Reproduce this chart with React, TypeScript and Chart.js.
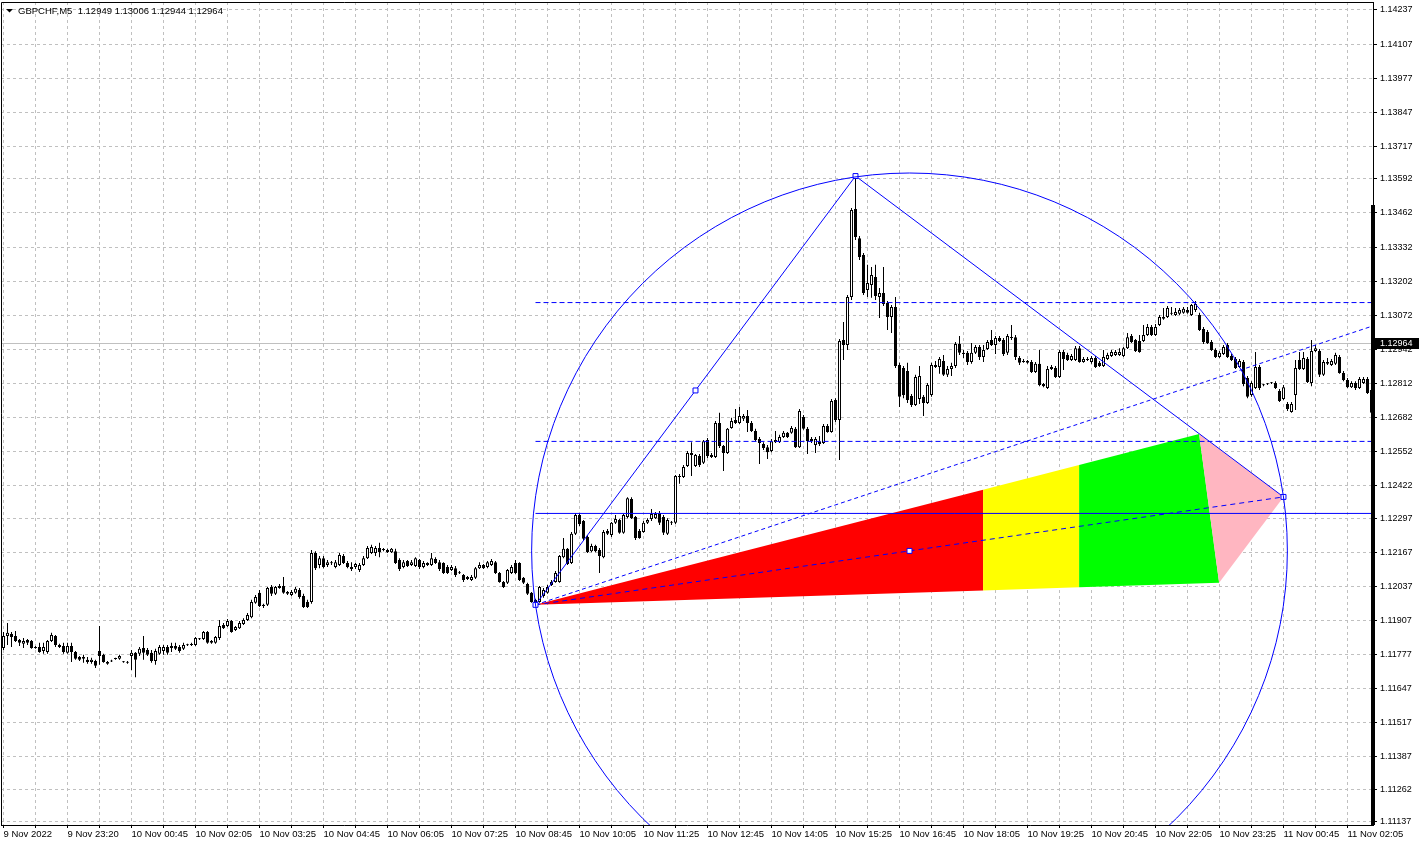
import React, { useEffect, useRef } from 'react';
import { Chart, registerables } from 'chart.js';

Chart.register(...registerables);

// ---------- data (GBPCHF M5 candles, bar index 0 = first visible bar) ----------
const opens = [
  1.11801, 1.11847, 1.11855, 1.11847, 1.11832, 1.11817, 1.11832, 1.11828, 1.11805, 1.11805,
  1.11790, 1.11786, 1.11828, 1.11847, 1.11813, 1.11809, 1.11783, 1.11809, 1.11786, 1.11767,
  1.11760, 1.11756, 1.11748, 1.11752, 1.11790, 1.11775, 1.11748, 1.11752, 1.11760, 1.11760,
  1.11748, 1.11748, 1.11771, 1.11783, 1.11779, 1.11801, 1.11794, 1.11783, 1.11752, 1.11779,
  1.11790, 1.11805, 1.11801, 1.11809, 1.11805, 1.11798, 1.11813, 1.11813, 1.11813, 1.11836,
  1.11836, 1.11862, 1.11821, 1.11821, 1.11839, 1.11889, 1.11885, 1.11904, 1.11870, 1.11877,
  1.11893, 1.11908, 1.11919, 1.11974, 1.12012, 1.11966, 1.11966, 1.12034, 1.12008, 1.12030,
  1.12038, 1.12015, 1.12004, 1.12012, 1.12023, 1.12000, 1.11977, 1.11977, 1.12164, 1.12118,
  1.12144, 1.12118, 1.12126, 1.12110, 1.12118, 1.12152, 1.12126, 1.12110, 1.12110, 1.12099,
  1.12118, 1.12144, 1.12164, 1.12164, 1.12183, 1.12175, 1.12175, 1.12167, 1.12171, 1.12137,
  1.12110, 1.12133, 1.12118, 1.12114, 1.12137, 1.12110, 1.12118, 1.12118, 1.12141, 1.12129,
  1.12126, 1.12110, 1.12099, 1.12106, 1.12088, 1.12080, 1.12065, 1.12061, 1.12069, 1.12106,
  1.12118, 1.12110, 1.12118, 1.12129, 1.12088, 1.12053, 1.12050, 1.12088, 1.12126, 1.12126,
  1.12069, 1.12046, 1.12012, 1.11985, 1.11977, 1.12000, 1.12012, 1.12042, 1.12053, 1.12053,
  1.12148, 1.12180, 1.12126, 1.12237, 1.12309, 1.12286, 1.12225, 1.12171, 1.12191, 1.12175,
  1.12148, 1.12248, 1.12233, 1.12279, 1.12290, 1.12241, 1.12301, 1.12370, 1.12301, 1.12248,
  1.12244, 1.12279, 1.12294, 1.12297, 1.12317, 1.12301, 1.12237, 1.12279, 1.12279, 1.12458,
  1.12454, 1.12496, 1.12546, 1.12496, 1.12534, 1.12508, 1.12595, 1.12538, 1.12530, 1.12660,
  1.12572, 1.12546, 1.12641, 1.12672, 1.12660, 1.12676, 1.12687, 1.12660, 1.12630, 1.12599,
  1.12580, 1.12568, 1.12553, 1.12587, 1.12587, 1.12607, 1.12623, 1.12623, 1.12638, 1.12568,
  1.12683, 1.12638, 1.12599, 1.12576, 1.12591, 1.12584, 1.12649, 1.12626, 1.12748, 1.12672,
  1.12977, 1.12958, 1.13141, 1.13477, 1.13366, 1.13302, 1.13168, 1.13187, 1.13218, 1.13141,
  1.13157, 1.13119, 1.13065, 1.13103, 1.12882, 1.12870, 1.12859, 1.12763, 1.12729, 1.12752,
  1.12760, 1.12737, 1.12767, 1.12882, 1.12874, 1.12897, 1.12844, 1.12866, 1.12878, 1.12962,
  1.12928, 1.12928, 1.12893, 1.12928, 1.12950, 1.12912, 1.12943, 1.12977, 1.12958, 1.12985,
  1.12977, 1.12928, 1.12988, 1.12988, 1.12908, 1.12897, 1.12897, 1.12893, 1.12855, 1.12886,
  1.12809, 1.12794, 1.12874, 1.12870, 1.12836, 1.12931, 1.12920, 1.12901, 1.12901, 1.12946,
  1.12893, 1.12905, 1.12893, 1.12908, 1.12890, 1.12878, 1.12905, 1.12916, 1.12920, 1.12920,
  1.12916, 1.12946, 1.12992, 1.12977, 1.12973, 1.12973, 1.12996, 1.13027, 1.12996, 1.13034,
  1.13058, 1.13065, 1.13077, 1.13073, 1.13077, 1.13081, 1.13092, 1.13073, 1.13092, 1.13073,
  1.13019, 1.13008, 1.12969, 1.12939, 1.12912, 1.12924, 1.12958, 1.12916, 1.12905, 1.12874,
  1.12893, 1.12832, 1.12767, 1.12794, 1.12874, 1.12805, 1.12809, 1.12813, 1.12813, 1.12782,
  1.12752, 1.12733, 1.12702, 1.12767, 1.12901, 1.12866, 1.12905, 1.12813, 1.12935, 1.12935,
  1.12844, 1.12893, 1.12882, 1.12886, 1.12912, 1.12851, 1.12824, 1.12797, 1.12813, 1.12794,
  1.12813, 1.12828, 1.12786,
];

const highs = [
  1.11862, 1.11897, 1.11862, 1.11866, 1.11836, 1.11839, 1.11836, 1.11832, 1.11809, 1.11821,
  1.11821, 1.11832, 1.11859, 1.11851, 1.11817, 1.11821, 1.11821, 1.11821, 1.11790, 1.11771,
  1.11775, 1.11767, 1.11764, 1.11756, 1.11885, 1.11779, 1.11752, 1.11756, 1.11764, 1.11775,
  1.11752, 1.11752, 1.11794, 1.11786, 1.11805, 1.11847, 1.11801, 1.11794, 1.11798, 1.11813,
  1.11813, 1.11813, 1.11821, 1.11821, 1.11813, 1.11821, 1.11817, 1.11821, 1.11843, 1.11839,
  1.11866, 1.11866, 1.11832, 1.11847, 1.11908, 1.11897, 1.11912, 1.11908, 1.11885, 1.11904,
  1.11915, 1.11935, 1.11985, 1.12004, 1.12023, 1.11970, 1.12034, 1.12042, 1.12038, 1.12046,
  1.12072, 1.12019, 1.12023, 1.12034, 1.12030, 1.12008, 1.11985, 1.12175, 1.12171, 1.12152,
  1.12152, 1.12137, 1.12133, 1.12137, 1.12164, 1.12160, 1.12133, 1.12129, 1.12126, 1.12126,
  1.12152, 1.12191, 1.12195, 1.12191, 1.12203, 1.12183, 1.12180, 1.12183, 1.12180, 1.12144,
  1.12137, 1.12137, 1.12137, 1.12148, 1.12141, 1.12133, 1.12129, 1.12164, 1.12148, 1.12137,
  1.12129, 1.12118, 1.12118, 1.12114, 1.12095, 1.12084, 1.12076, 1.12080, 1.12110, 1.12129,
  1.12122, 1.12133, 1.12141, 1.12133, 1.12091, 1.12057, 1.12103, 1.12118, 1.12137, 1.12129,
  1.12072, 1.12050, 1.12015, 1.11989, 1.12038, 1.12030, 1.12042, 1.12061, 1.12095, 1.12156,
  1.12221, 1.12183, 1.12244, 1.12317, 1.12317, 1.12290, 1.12233, 1.12199, 1.12195, 1.12183,
  1.12252, 1.12256, 1.12282, 1.12309, 1.12294, 1.12313, 1.12377, 1.12377, 1.12305, 1.12256,
  1.12286, 1.12297, 1.12332, 1.12320, 1.12324, 1.12309, 1.12297, 1.12286, 1.12462, 1.12466,
  1.12500, 1.12553, 1.12587, 1.12542, 1.12542, 1.12595, 1.12603, 1.12546, 1.12668, 1.12699,
  1.12576, 1.12641, 1.12680, 1.12714, 1.12721, 1.12695, 1.12710, 1.12668, 1.12638, 1.12607,
  1.12587, 1.12576, 1.12599, 1.12630, 1.12615, 1.12630, 1.12626, 1.12649, 1.12645, 1.12714,
  1.12691, 1.12645, 1.12607, 1.12607, 1.12611, 1.12656, 1.12656, 1.12752, 1.12755, 1.12981,
  1.13046, 1.13149, 1.13481, 1.13603, 1.13374, 1.13309, 1.13264, 1.13256, 1.13264, 1.13176,
  1.13256, 1.13126, 1.13111, 1.13141, 1.12890, 1.12878, 1.12890, 1.12771, 1.12844, 1.12878,
  1.12767, 1.12813, 1.12890, 1.12897, 1.12912, 1.12920, 1.12878, 1.12890, 1.12969, 1.12992,
  1.12939, 1.12935, 1.12966, 1.12958, 1.12958, 1.12958, 1.12977, 1.13015, 1.12992, 1.12992,
  1.12985, 1.13000, 1.13034, 1.12996, 1.12916, 1.12905, 1.12901, 1.12901, 1.12893, 1.12939,
  1.12813, 1.12878, 1.12882, 1.12878, 1.12939, 1.12939, 1.12928, 1.12924, 1.12954, 1.12954,
  1.12912, 1.12912, 1.12916, 1.12916, 1.12897, 1.12939, 1.12928, 1.12939, 1.12939, 1.12946,
  1.12950, 1.13004, 1.13000, 1.12981, 1.12996, 1.13034, 1.13038, 1.13034, 1.13038, 1.13073,
  1.13099, 1.13107, 1.13103, 1.13099, 1.13099, 1.13103, 1.13103, 1.13115, 1.13126, 1.13081,
  1.13027, 1.13015, 1.12977, 1.12946, 1.12935, 1.12958, 1.12966, 1.12924, 1.12912, 1.12905,
  1.12901, 1.12840, 1.12820, 1.12931, 1.12882, 1.12809, 1.12813, 1.12817, 1.12820, 1.12790,
  1.12805, 1.12740, 1.12740, 1.12901, 1.12931, 1.12931, 1.12912, 1.12977, 1.12958, 1.12943,
  1.12901, 1.12908, 1.12905, 1.12928, 1.12920, 1.12859, 1.12832, 1.12820, 1.12820, 1.12836,
  1.12836, 1.12836, 1.12794,
];

const lows = [
  1.11794, 1.11813, 1.11805, 1.11824, 1.11809, 1.11801, 1.11813, 1.11798, 1.11798, 1.11783,
  1.11779, 1.11779, 1.11824, 1.11805, 1.11801, 1.11779, 1.11779, 1.11748, 1.11756, 1.11752,
  1.11745, 1.11741, 1.11741, 1.11725, 1.11737, 1.11745, 1.11737, 1.11748, 1.11756, 1.11756,
  1.11745, 1.11741, 1.11717, 1.11690, 1.11771, 1.11756, 1.11771, 1.11745, 1.11737, 1.11775,
  1.11775, 1.11775, 1.11786, 1.11794, 1.11783, 1.11794, 1.11809, 1.11809, 1.11809, 1.11832,
  1.11832, 1.11817, 1.11817, 1.11817, 1.11832, 1.11874, 1.11881, 1.11859, 1.11866, 1.11874,
  1.11889, 1.11904, 1.11915, 1.11970, 1.11958, 1.11954, 1.11962, 1.12000, 1.12004, 1.12027,
  1.12008, 1.12004, 1.12000, 1.12008, 1.11989, 1.11954, 1.11954, 1.11970, 1.12099, 1.12106,
  1.12106, 1.12110, 1.12118, 1.12106, 1.12114, 1.12122, 1.12106, 1.12095, 1.12103, 1.12091,
  1.12114, 1.12141, 1.12160, 1.12152, 1.12148, 1.12171, 1.12164, 1.12164, 1.12122, 1.12095,
  1.12106, 1.12110, 1.12114, 1.12110, 1.12103, 1.12106, 1.12114, 1.12114, 1.12122, 1.12095,
  1.12084, 1.12084, 1.12095, 1.12072, 1.12084, 1.12053, 1.12061, 1.12057, 1.12065, 1.12103,
  1.12103, 1.12106, 1.12114, 1.12084, 1.12050, 1.12030, 1.12046, 1.12084, 1.12084, 1.12057,
  1.12046, 1.12004, 1.11974, 1.11962, 1.11974, 1.11993, 1.12008, 1.12038, 1.12050, 1.12050,
  1.12144, 1.12118, 1.12122, 1.12233, 1.12267, 1.12210, 1.12164, 1.12167, 1.12167, 1.12088,
  1.12144, 1.12233, 1.12225, 1.12275, 1.12237, 1.12237, 1.12297, 1.12294, 1.12214, 1.12218,
  1.12241, 1.12275, 1.12286, 1.12294, 1.12271, 1.12233, 1.12233, 1.12271, 1.12275, 1.12428,
  1.12450, 1.12492, 1.12458, 1.12492, 1.12492, 1.12504, 1.12527, 1.12527, 1.12527, 1.12565,
  1.12477, 1.12542, 1.12638, 1.12656, 1.12656, 1.12668, 1.12626, 1.12626, 1.12591, 1.12504,
  1.12557, 1.12523, 1.12549, 1.12584, 1.12584, 1.12603, 1.12603, 1.12619, 1.12565, 1.12565,
  1.12634, 1.12542, 1.12584, 1.12546, 1.12572, 1.12580, 1.12623, 1.12623, 1.12664, 1.12519,
  1.12901, 1.12939, 1.13130, 1.13359, 1.13283, 1.13149, 1.13141, 1.13138, 1.13130, 1.13061,
  1.13107, 1.13015, 1.13004, 1.12870, 1.12721, 1.12755, 1.12737, 1.12721, 1.12725, 1.12733,
  1.12687, 1.12733, 1.12760, 1.12870, 1.12848, 1.12840, 1.12836, 1.12840, 1.12870, 1.12920,
  1.12908, 1.12882, 1.12886, 1.12924, 1.12901, 1.12893, 1.12939, 1.12954, 1.12924, 1.12969,
  1.12916, 1.12920, 1.12977, 1.12901, 1.12882, 1.12890, 1.12886, 1.12851, 1.12851, 1.12801,
  1.12797, 1.12790, 1.12863, 1.12832, 1.12832, 1.12863, 1.12897, 1.12897, 1.12897, 1.12890,
  1.12890, 1.12897, 1.12886, 1.12870, 1.12874, 1.12874, 1.12901, 1.12912, 1.12916, 1.12916,
  1.12912, 1.12943, 1.12966, 1.12931, 1.12928, 1.12969, 1.12992, 1.12992, 1.12992, 1.13031,
  1.13054, 1.13061, 1.13073, 1.13069, 1.13073, 1.13077, 1.13077, 1.13069, 1.13084, 1.13011,
  1.12962, 1.12962, 1.12935, 1.12908, 1.12908, 1.12920, 1.12908, 1.12897, 1.12866, 1.12870,
  1.12801, 1.12755, 1.12760, 1.12790, 1.12786, 1.12801, 1.12805, 1.12809, 1.12790, 1.12740,
  1.12748, 1.12706, 1.12699, 1.12710, 1.12863, 1.12863, 1.12813, 1.12801, 1.12931, 1.12836,
  1.12840, 1.12882, 1.12878, 1.12882, 1.12848, 1.12820, 1.12794, 1.12794, 1.12786, 1.12790,
  1.12809, 1.12771, 1.12687,
];

const closes = [
  1.11847, 1.11859, 1.11843, 1.11828, 1.11821, 1.11828, 1.11821, 1.11801, 1.11801, 1.11786,
  1.11805, 1.11828, 1.11851, 1.11813, 1.11805, 1.11786, 1.11809, 1.11786, 1.11760, 1.11756,
  1.11767, 1.11748, 1.11756, 1.11733, 1.11771, 1.11748, 1.11741, 1.11750, 1.11759, 1.11771,
  1.11747, 1.11745, 1.11783, 1.11756, 1.11798, 1.11783, 1.11775, 1.11752, 1.11790, 1.11805,
  1.11805, 1.11783, 1.11809, 1.11798, 1.11790, 1.11813, 1.11812, 1.11814, 1.11839, 1.11835,
  1.11862, 1.11821, 1.11828, 1.11843, 1.11885, 1.11877, 1.11904, 1.11862, 1.11881, 1.11897,
  1.11908, 1.11927, 1.11977, 1.11996, 1.11962, 1.11962, 1.12030, 1.12008, 1.12034, 1.12038,
  1.12012, 1.12008, 1.12015, 1.12027, 1.11996, 1.11958, 1.11958, 1.12164, 1.12106, 1.12144,
  1.12110, 1.12129, 1.12125, 1.12129, 1.12156, 1.12126, 1.12110, 1.12103, 1.12122, 1.12118,
  1.12144, 1.12183, 1.12187, 1.12183, 1.12167, 1.12179, 1.12167, 1.12180, 1.12126, 1.12103,
  1.12129, 1.12114, 1.12129, 1.12144, 1.12110, 1.12126, 1.12126, 1.12144, 1.12126, 1.12103,
  1.12088, 1.12088, 1.12110, 1.12080, 1.12087, 1.12061, 1.12072, 1.12072, 1.12106, 1.12118,
  1.12106, 1.12129, 1.12133, 1.12088, 1.12053, 1.12034, 1.12099, 1.12110, 1.12088, 1.12061,
  1.12050, 1.12008, 1.11977, 1.11970, 1.12034, 1.12023, 1.12034, 1.12053, 1.12088, 1.12152,
  1.12180, 1.12122, 1.12237, 1.12309, 1.12275, 1.12218, 1.12167, 1.12191, 1.12171, 1.12152,
  1.12244, 1.12237, 1.12279, 1.12294, 1.12241, 1.12309, 1.12373, 1.12297, 1.12221, 1.12221,
  1.12279, 1.12290, 1.12313, 1.12313, 1.12279, 1.12241, 1.12290, 1.12280, 1.12458, 1.12454,
  1.12492, 1.12546, 1.12538, 1.12538, 1.12500, 1.12591, 1.12534, 1.12530, 1.12660, 1.12572,
  1.12546, 1.12638, 1.12668, 1.12660, 1.12687, 1.12687, 1.12660, 1.12630, 1.12595, 1.12584,
  1.12565, 1.12549, 1.12591, 1.12595, 1.12607, 1.12623, 1.12607, 1.12641, 1.12568, 1.12706,
  1.12638, 1.12591, 1.12591, 1.12599, 1.12580, 1.12649, 1.12626, 1.12744, 1.12672, 1.12973,
  1.12958, 1.13141, 1.13473, 1.13370, 1.13294, 1.13157, 1.13195, 1.13225, 1.13145, 1.13157,
  1.13115, 1.13065, 1.13103, 1.12878, 1.12760, 1.12767, 1.12748, 1.12729, 1.12836, 1.12840,
  1.12737, 1.12805, 1.12882, 1.12874, 1.12905, 1.12844, 1.12866, 1.12878, 1.12962, 1.12928,
  1.12924, 1.12893, 1.12928, 1.12950, 1.12912, 1.12939, 1.12969, 1.12958, 1.12985, 1.12973,
  1.12924, 1.12992, 1.12985, 1.12912, 1.12890, 1.12893, 1.12890, 1.12855, 1.12886, 1.12805,
  1.12801, 1.12866, 1.12866, 1.12836, 1.12931, 1.12905, 1.12901, 1.12916, 1.12946, 1.12893,
  1.12905, 1.12901, 1.12908, 1.12874, 1.12878, 1.12912, 1.12920, 1.12931, 1.12931, 1.12931,
  1.12946, 1.12988, 1.12969, 1.12935, 1.12931, 1.12996, 1.13027, 1.12996, 1.13027, 1.13065,
  1.13065, 1.13099, 1.13081, 1.13084, 1.13092, 1.13096, 1.13081, 1.13111, 1.13115, 1.13015,
  1.12969, 1.12966, 1.12939, 1.12912, 1.12928, 1.12950, 1.12912, 1.12901, 1.12870, 1.12897,
  1.12809, 1.12760, 1.12813, 1.12874, 1.12794, 1.12804, 1.12808, 1.12812, 1.12794, 1.12744,
  1.12797, 1.12714, 1.12733, 1.12870, 1.12866, 1.12908, 1.12817, 1.12935, 1.12946, 1.12844,
  1.12893, 1.12886, 1.12897, 1.12920, 1.12851, 1.12824, 1.12797, 1.12813, 1.12794, 1.12828,
  1.12828, 1.12775, 1.12699,
];

// time labels, one every 16 bars
const xLabels = [
  '9 Nov 2022', '9 Nov 23:20', '10 Nov 00:45', '10 Nov 02:05', '10 Nov 03:25', '10 Nov 04:45',
  '10 Nov 06:05', '10 Nov 07:25', '10 Nov 08:45', '10 Nov 10:05', '10 Nov 11:25', '10 Nov 12:45',
  '10 Nov 14:05', '10 Nov 15:25', '10 Nov 16:45', '10 Nov 18:05', '10 Nov 19:25', '10 Nov 20:45',
  '10 Nov 22:05', '10 Nov 23:25', '11 Nov 00:45', '11 Nov 02:05',
];

const yTicks = [
  1.14237, 1.14107, 1.13977, 1.13847, 1.13717, 1.13592, 1.13462, 1.13332, 1.13202, 1.13072,
  1.12942, 1.12812, 1.12682, 1.12552, 1.12422, 1.12297, 1.12167, 1.12037, 1.11907, 1.11777,
  1.11647, 1.11517, 1.11387, 1.11262, 1.11137,
];

const symbolTitle = 'GBPCHF,M5';
const currentBar = [1.12949, 1.13006, 1.12944, 1.12964];
const bidPrice = 1.12964;

// drawing objects (bar index, price)
const anchorLow = { x: 133, y: 1.11966 };
const anchorHigh = { x: 213, y: 1.13603 };
const anchorRight = { x: 320, y: 1.12378 };
const rayEnd = { x: 342.375, y: 1.13031 };
const levelUpper = 1.1312;
const levelLower = 1.1259;
const levelSolid = 1.12315;
const fanTop = { x: 298.9, y: 1.12618 };
const fanBottom = { x: 303.9, y: 1.1205 };
const fanSplits = [244.9, 268.9];
const axisShadeFrom = 1.13493;

// ---------- scale ranges ----------
const X_MIN = -0.625;
const X_MAX = 342.375;
const Y_MIN = 1.111255;
const Y_MAX = 1.142675;

const FONT = '"Liberation Sans", Arial, sans-serif';
const BLUE = '#0000FF';
const GRID = '#C0C0C0';

const mid = (a: any, b: any) => ({ x: (a.x + b.x) / 2, y: (a.y + b.y) / 2 });
const lerpY = (a: any, b: any, x: number) => a.y + ((b.y - a.y) * (x - a.x)) / (b.x - a.x);

const overlayPlugin = {
  id: 'mt4Overlay',
  beforeDatasetsDraw(chart: any) {
    const { ctx, chartArea: ca, scales } = chart;
    const xs = scales.x;
    const ys = scales.y;
    const px = (p: any) => [xs.getPixelForValue(p.x), ys.getPixelForValue(p.y)];
    ctx.save();
    ctx.beginPath();
    ctx.rect(ca.left, ca.top, ca.right - ca.left, ca.bottom - ca.top);
    ctx.clip();
    // bid line
    const by = Math.round(ys.getPixelForValue(bidPrice)) + 0.5;
    ctx.strokeStyle = GRID;
    ctx.lineWidth = 1;
    ctx.beginPath();
    ctx.moveTo(ca.left, by);
    ctx.lineTo(ca.right, by);
    ctx.stroke();
    // fan polygons
    const [s1, s2] = fanSplits;
    const t1 = { x: s1, y: lerpY(anchorLow, fanTop, s1) };
    const b1 = { x: s1, y: lerpY(anchorLow, fanBottom, s1) };
    const t2 = { x: s2, y: lerpY(anchorLow, fanTop, s2) };
    const b2 = { x: s2, y: lerpY(anchorLow, fanBottom, s2) };
    const poly = (pts: any[], color: string) => {
      ctx.beginPath();
      pts.forEach((p, i) => {
        const [X, Y] = px(p);
        if (i === 0) ctx.moveTo(X, Y);
        else ctx.lineTo(X, Y);
      });
      ctx.closePath();
      ctx.fillStyle = color;
      ctx.fill();
    };
    poly([anchorLow, t1, b1], '#FF0000');
    poly([t1, t2, b2, b1], '#FFFF00');
    poly([t2, fanTop, fanBottom, b2], '#00FF00');
    poly([fanTop, anchorRight, fanBottom], '#FFB6C1');
    ctx.restore();
  },
  afterDatasetsDraw(chart: any) {
    const { ctx, chartArea: ca, scales } = chart;
    const xs = scales.x;
    const ys = scales.y;
    const ax = xs.getPixelForValue(anchorLow.x);
    const ay = ys.getPixelForValue(anchorLow.y);
    const rx = xs.getPixelForValue(anchorRight.x);
    const ry = ys.getPixelForValue(anchorRight.y);
    const cx = (ax + rx) / 2;
    const cy = (ay + ry) / 2;
    const r = Math.hypot(rx - ax, ry - ay) / 2;
    ctx.save();
    ctx.beginPath();
    ctx.rect(ca.left, ca.top, ca.right - ca.left, ca.bottom - ca.top);
    ctx.clip();
    ctx.strokeStyle = BLUE;
    ctx.lineWidth = 1;
    ctx.beginPath();
    ctx.arc(cx, cy, r, 0, Math.PI * 2);
    ctx.stroke();
    ctx.restore();
  },
  afterDraw(chart: any) {
    const { ctx, chartArea: ca, scales, width } = chart;
    const ys = scales.y;
    ctx.save();
    // frame
    ctx.strokeStyle = '#000';
    ctx.lineWidth = 1;
    ctx.beginPath();
    ctx.moveTo(ca.left + 0.5, ca.bottom);
    ctx.lineTo(ca.left + 0.5, ca.top + 0.5);
    ctx.lineTo(ca.right, ca.top + 0.5);
    ctx.stroke();
    // heavy part of price axis line
    const hy = Math.round(ys.getPixelForValue(axisShadeFrom));
    ctx.fillStyle = '#000';
    ctx.fillRect(ca.right - 2, hy, 4, ca.bottom - hy);
    // bid label
    const by = Math.round(ys.getPixelForValue(bidPrice));
    ctx.fillStyle = '#000';
    ctx.fillRect(ca.right + 1, by - 5, width - ca.right - 1, 11);
    ctx.fillStyle = '#FFF';
    ctx.font = `9px ${FONT}`;
    ctx.textBaseline = 'middle';
    ctx.textAlign = 'left';
    ctx.fillText(bidPrice.toFixed(5), ca.right + 7, by + 0.5);
    // title
    ctx.fillStyle = '#000';
    ctx.beginPath();
    ctx.moveTo(ca.left + 5, 9);
    ctx.lineTo(ca.left + 12, 9);
    ctx.lineTo(ca.left + 8.5, 12.5);
    ctx.closePath();
    ctx.fill();
    ctx.font = `9.5px ${FONT}`;
    ctx.fillText(`${symbolTitle}  ${currentBar.map((v) => v.toFixed(5)).join(' ')}`, ca.left + 17, 11);
    ctx.restore();
  },
};

export default function App() {
  const ref = useRef<HTMLCanvasElement>(null);

  useEffect(() => {
    document.body.style.margin = '0';
    document.body.style.background = '#fff';
    const idx = opens.map((_, i) => i);
    const bodyData = idx.map((i) => ({ x: i, y: [opens[i], closes[i]] }));
    const wickData = idx.map((i) => ({ x: i, y: [lows[i], highs[i]] }));
    const bodyColors = idx.map((i) => (closes[i] >= opens[i] ? '#FFFFFF' : '#000000'));

    const lineBase = {
      type: 'line' as const,
      pointRadius: 0,
      borderWidth: 1,
      borderColor: BLUE,
      fill: false,
      tension: 0,
      order: 1,
    };

    const markers = [anchorLow, mid(anchorLow, anchorHigh), anchorHigh, mid(anchorLow, anchorRight), anchorRight];

    const chart = new Chart(ref.current as HTMLCanvasElement, {
      type: 'bar',
      data: {
        datasets: [
          {
            type: 'line',
            data: markers,
            showLine: false,
            pointStyle: 'rect',
            pointRadius: 3.5,
            pointBackgroundColor: '#FFFFFF',
            pointBorderColor: BLUE,
            pointBorderWidth: 1,
            order: 0,
          } as any,
          { ...lineBase, data: [anchorLow, anchorHigh, anchorRight] } as any,
          { ...lineBase, data: [anchorLow, anchorRight], borderDash: [5, 4] } as any,
          { ...lineBase, data: [anchorLow, rayEnd], borderDash: [4, 3] } as any,
          { ...lineBase, data: [{ x: anchorLow.x, y: levelUpper }, { x: X_MAX, y: levelUpper }], borderDash: [5, 3] } as any,
          { ...lineBase, data: [{ x: anchorLow.x, y: levelLower }, { x: X_MAX, y: levelLower }], borderDash: [5, 3] } as any,
          { ...lineBase, data: [{ x: anchorLow.x, y: levelSolid }, { x: X_MAX, y: levelSolid }] } as any,
          {
            type: 'bar',
            data: bodyData,
            backgroundColor: bodyColors,
            borderColor: '#000000',
            borderWidth: 1,
            borderSkipped: false,
            barThickness: 3,
            barPercentage: 1,
            categoryPercentage: 0.75,
            grouped: false,
            minBarLength: 1,
            inflateAmount: 0,
            order: 2,
          } as any,
          {
            type: 'bar',
            data: wickData,
            backgroundColor: '#000000',
            borderWidth: 0,
            barThickness: 1,
            barPercentage: 1,
            categoryPercentage: 0.25,
            grouped: false,
            inflateAmount: 0,
            order: 3,
          } as any,
        ],
      },
      options: {
        responsive: false,
        animation: false,
        devicePixelRatio: 1,
        events: [],
        layout: { padding: { left: 1, top: 2, right: 0, bottom: 0 }, autoPadding: false },
        plugins: { legend: { display: false }, tooltip: { enabled: false }, title: { display: false } },
        scales: {
          x: {
            type: 'linear',
            min: X_MIN,
            max: X_MAX,
            offset: false,
            afterBuildTicks: (s: any) => {
              const t = [];
              for (let v = 0; v <= X_MAX; v += 8) t.push({ value: v });
              s.ticks = t;
            },
            afterFit: (s: any) => {
              s.height = 21;
              s.paddingLeft = 0;
              s.paddingRight = 0;
            },
            grid: { color: GRID, tickColor: '#000', tickLength: 3, drawTicks: true, offset: false },
            border: { display: true, color: '#000', width: 1, dash: [3, 3] },
            ticks: {
              autoSkip: false,
              maxRotation: 0,
              minRotation: 0,
              align: 'start',
              padding: 1,
              color: '#000',
              font: { family: FONT, size: 9.5 },
              callback: (v: any) => (Number(v) % 16 === 0 ? xLabels[Number(v) / 16] : ''),
            },
          },
          y: {
            type: 'linear',
            position: 'right',
            min: Y_MIN,
            max: Y_MAX,
            afterBuildTicks: (s: any) => {
              s.ticks = yTicks.map((v) => ({ value: v }));
            },
            afterFit: (s: any) => {
              s.width = 46;
              s.paddingTop = 0;
              s.paddingBottom = 0;
            },
            grid: { color: GRID, tickColor: '#000', tickLength: 4, drawTicks: true },
            border: { display: true, color: '#000', width: 1, dash: [3, 3] },
            ticks: {
              autoSkip: false,
              padding: 3,
              color: '#000',
              font: { family: FONT, size: 9 },
              callback: (v: any) => Number(v).toFixed(5),
            },
          },
        },
      } as any,
      plugins: [overlayPlugin],
    });
    return () => chart.destroy();
  }, []);

  return (
    <div style={{ width: 1419, height: 846, overflow: 'hidden', background: '#fff' }}>
      <canvas ref={ref} width={1419} height={846} style={{ display: 'block', width: 1419, height: 846 }} />
    </div>
  );
}
